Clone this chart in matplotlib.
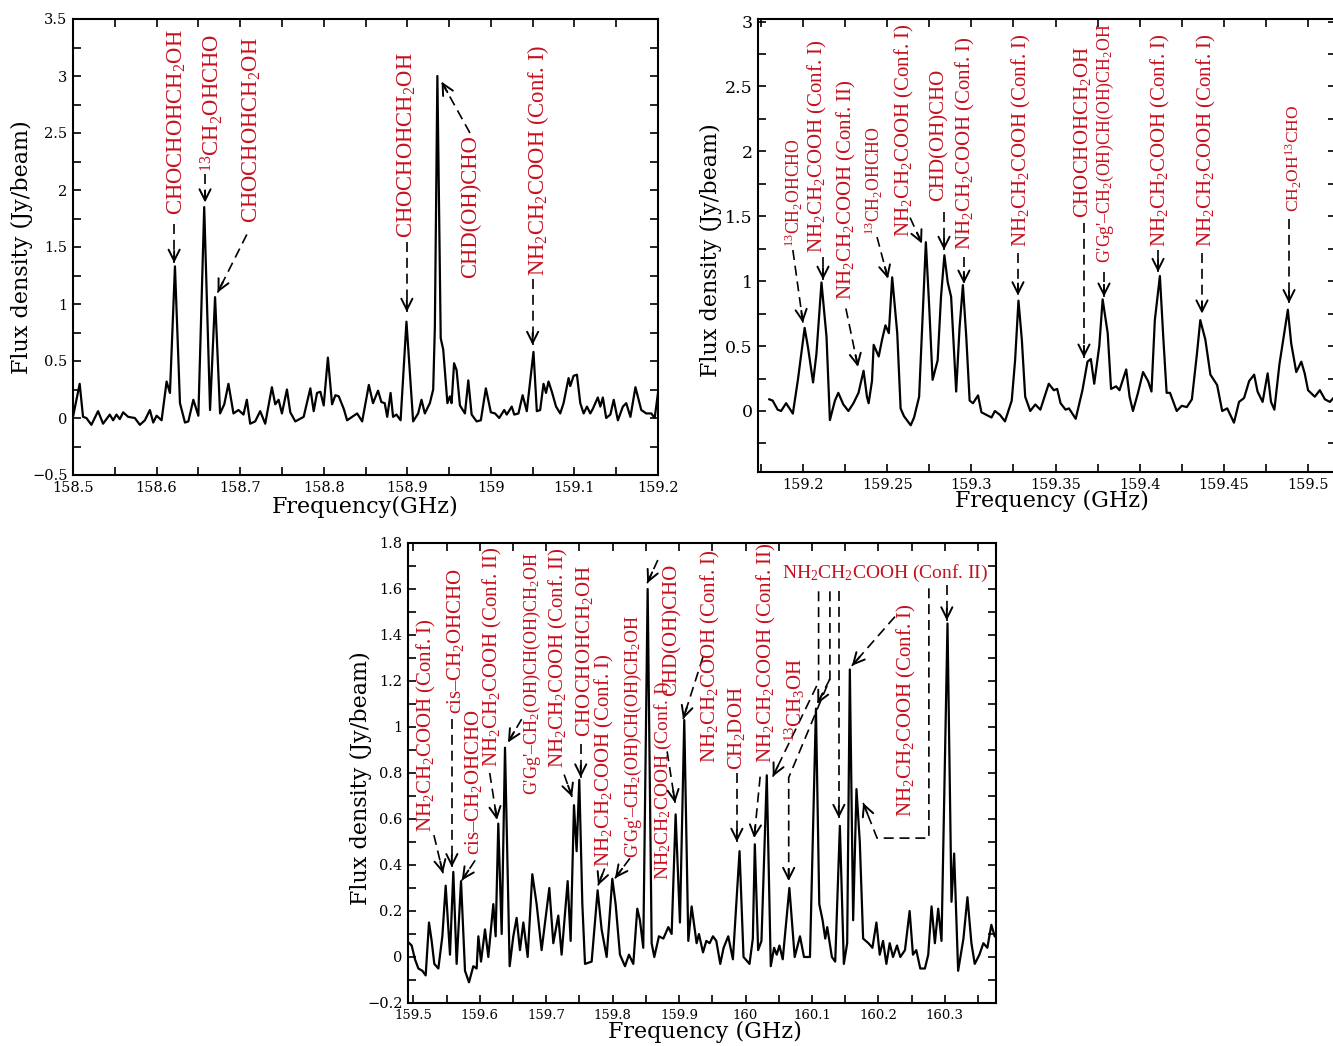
import numpy as np
import matplotlib
matplotlib.use("Agg")
import matplotlib.pyplot as plt
from matplotlib.ticker import MultipleLocator, FuncFormatter

# ---------------- spectrum A: 158.5 - 159.2 GHz ----------------
freq_a = [158.500, 158.508, 158.512, 158.516, 158.522, 158.530, 158.536, 158.544, 158.548, 158.552,
          158.556, 158.560, 158.566, 158.574, 158.580, 158.586, 158.592, 158.596, 158.600, 158.606,
          158.612, 158.616, 158.622, 158.628, 158.634, 158.638, 158.644, 158.650, 158.657, 158.664,
          158.670, 158.676, 158.681, 158.686, 158.692, 158.698, 158.704, 158.708, 158.712, 158.718,
          158.724, 158.730, 158.738, 158.742, 158.746, 158.750, 158.756, 158.760, 158.766, 158.776,
          158.784, 158.788, 158.792, 158.796, 158.800, 158.805, 158.810, 158.814, 158.818, 158.824,
          158.828, 158.834, 158.840, 158.846, 158.854, 158.859, 158.865, 158.869, 158.873, 158.876,
          158.880, 158.883, 158.887, 158.892, 158.899, 158.907, 158.913, 158.917, 158.921, 158.927,
          158.931, 158.933, 158.936, 158.940, 158.943, 158.948, 158.951, 158.953, 158.956, 158.959,
          158.963, 158.969, 158.973, 158.977, 158.983, 158.988, 158.994, 159.000, 159.005, 159.010,
          159.016, 159.019, 159.025, 159.028, 159.033, 159.038, 159.043, 159.051, 159.055, 159.059,
          159.063, 159.066, 159.069, 159.073, 159.078, 159.083, 159.087, 159.093, 159.095, 159.099,
          159.103, 159.107, 159.111, 159.115, 159.119, 159.122, 159.128, 159.131, 159.134, 159.138,
          159.143, 159.147, 159.152, 159.158, 159.162, 159.167, 159.173, 159.180, 159.186, 159.192,
          159.196, 159.200]
flux_a = [0.01, 0.30, 0.01, 0.00, -0.06, 0.06, -0.05, 0.03, -0.02, 0.03,
          -0.01, 0.05, 0.01, 0.00, -0.06, -0.02, 0.07, -0.04, 0.02, -0.02,
          0.32, 0.22, 1.33, 0.13, -0.04, -0.03, 0.16, 0.02, 1.85, 0.07,
          1.06, 0.04, 0.12, 0.30, 0.04, 0.07, 0.03, 0.16, -0.05, -0.03,
          0.06, -0.05, 0.27, 0.12, 0.16, 0.04, 0.25, 0.05, -0.03, 0.01,
          0.26, 0.06, 0.22, 0.23, 0.11, 0.53, 0.12, 0.20, 0.19, 0.08,
          -0.02, 0.01, 0.04, -0.03, 0.29, 0.13, 0.24, 0.14, 0.13, 0.01,
          0.22, 0.01, 0.03, -0.02, 0.845, -0.03, 0.04, 0.16, 0.04, 0.13,
          0.25, 0.80, 3.00, 0.70, 0.60, 0.13, 0.19, 0.13, 0.48, 0.42,
          0.11, 0.04, 0.33, 0.03, -0.03, -0.02, 0.26, 0.05, 0.04, 0.00,
          0.07, 0.03, 0.10, 0.03, 0.04, 0.20, 0.06, 0.58, 0.06, 0.07,
          0.30, 0.22, 0.32, 0.23, 0.10, 0.04, 0.13, 0.35, 0.28, 0.37,
          0.38, 0.13, 0.04, 0.10, 0.04, 0.08, 0.18, 0.10, 0.18, 0.00,
          0.03, 0.16, -0.02, 0.10, 0.13, 0.01, 0.27, 0.07, 0.04, 0.04,
          0.00, 0.22]

# ---------------- spectrum B: 159.18 - 159.52 GHz ----------------
freq_b = [159.180, 159.182, 159.185, 159.187, 159.190, 159.194, 159.197, 159.201, 159.203, 159.206,
          159.208, 159.211, 159.214, 159.216, 159.219, 159.221, 159.224, 159.227, 159.230, 159.233,
          159.236, 159.238, 159.239, 159.241, 159.242, 159.245, 159.247, 159.249, 159.251, 159.253,
          159.256, 159.258, 159.260, 159.264, 159.266, 159.269, 159.271, 159.273, 159.275, 159.277,
          159.280, 159.282, 159.284, 159.286, 159.288, 159.291, 159.293, 159.295, 159.297, 159.299,
          159.301, 159.304, 159.306, 159.309, 159.312, 159.314, 159.317, 159.320, 159.324, 159.326,
          159.328, 159.330, 159.332, 159.335, 159.338, 159.341, 159.346, 159.349, 159.351, 159.353,
          159.356, 159.358, 159.362, 159.366, 159.369, 159.371, 159.373, 159.376, 159.378, 159.381,
          159.383, 159.386, 159.388, 159.392, 159.394, 159.396, 159.399, 159.402, 159.405, 159.407,
          159.409, 159.412, 159.414, 159.416, 159.418, 159.420, 159.422, 159.425, 159.428, 159.431,
          159.434, 159.436, 159.439, 159.442, 159.446, 159.449, 159.452, 159.456, 159.459, 159.462,
          159.465, 159.468, 159.470, 159.473, 159.476, 159.478, 159.480, 159.483, 159.488, 159.490,
          159.493, 159.496, 159.498, 159.500, 159.504, 159.507, 159.510, 159.513, 159.515, 159.520]
flux_b = [0.09, 0.08, 0.01, 0.00, 0.06, -0.02, 0.24, 0.64, 0.49, 0.22,
          0.44, 0.99, 0.57, -0.07, 0.08, 0.14, 0.05, 0.00, 0.06, 0.14,
          0.31, 0.11, 0.06, 0.23, 0.51, 0.42, 0.55, 0.66, 0.60, 1.03,
          0.60, 0.02, -0.04, -0.11, -0.05, 0.11, 0.70, 1.30, 0.80, 0.24,
          0.39, 0.88, 1.20, 0.99, 0.88, 0.15, 0.64, 0.97, 0.57, 0.08,
          0.06, 0.12, -0.01, -0.03, -0.05, 0.00, -0.03, -0.08, 0.08, 0.39,
          0.85, 0.55, 0.11, 0.00, 0.05, 0.01, 0.21, 0.16, 0.17, 0.06,
          0.01, 0.02, -0.06, 0.16, 0.38, 0.40, 0.21, 0.50, 0.86, 0.60,
          0.17, 0.19, 0.16, 0.32, 0.11, 0.00, 0.14, 0.30, 0.23, 0.15,
          0.70, 1.04, 0.57, 0.14, 0.14, 0.07, 0.00, 0.04, 0.03, 0.09,
          0.44, 0.70, 0.55, 0.28, 0.20, 0.00, 0.02, -0.09, 0.07, 0.10,
          0.23, 0.28, 0.15, 0.07, 0.29, 0.07, 0.01, 0.36, 0.78, 0.52,
          0.30, 0.38, 0.29, 0.16, 0.11, 0.16, 0.09, 0.07, 0.10, 0.10]

# ---------------- spectrum C: 159.49 - 160.38 GHz ----------------
freq_c = [159.4940, 159.4975, 159.5025, 159.5076, 159.5136, 159.5186, 159.5236, 159.5276, 159.5316, 159.5377,
          159.5437, 159.5487, 159.5552, 159.5602, 159.5652, 159.5718, 159.5778, 159.5838, 159.5903, 159.5953,
          159.5979, 159.6019, 159.6079, 159.6129, 159.6204, 159.6239, 159.6279, 159.6330, 159.6380, 159.6450,
          159.6505, 159.6555, 159.6605, 159.6656, 159.6721, 159.6791, 159.6856, 159.6931, 159.7047, 159.7107,
          159.7182, 159.7232, 159.7323, 159.7368, 159.7418, 159.7458, 159.7498, 159.7544, 159.7584, 159.7684,
          159.7774, 159.7834, 159.7910, 159.7995, 159.8045, 159.8110, 159.8186, 159.8246, 159.8311, 159.8371,
          159.8411, 159.8461, 159.8527, 159.8587, 159.8627, 159.8697, 159.8763, 159.8838, 159.8888, 159.8948,
          159.9013, 159.9078, 159.9139, 159.9189, 159.9264, 159.9299, 159.9360, 159.9410, 159.9460, 159.9510,
          159.9560, 159.9620, 159.9670, 159.9740, 159.9810, 159.9910, 159.9970, 160.0060, 160.0110, 160.0140,
          160.0190, 160.0240, 160.0320, 160.0380, 160.0430, 160.0470, 160.0510, 160.0560, 160.0660, 160.0740,
          160.0820, 160.0880, 160.0970, 160.1060, 160.1110, 160.1160, 160.1200, 160.1230, 160.1300, 160.1350,
          160.1420, 160.1480, 160.1530, 160.1570, 160.1620, 160.1670, 160.1720, 160.1770, 160.1850, 160.1910,
          160.1970, 160.2020, 160.2070, 160.2120, 160.2170, 160.2220, 160.2280, 160.2330, 160.2400, 160.2470,
          160.2520, 160.2570, 160.2630, 160.2700, 160.2750, 160.2800, 160.2850, 160.2900, 160.2950, 160.3040,
          160.3100, 160.3140, 160.3200, 160.3280, 160.3340, 160.3400, 160.3450, 160.3520, 160.3580, 160.3640,
          160.3700, 160.3750, 160.3800]
flux_c = [0.06, 0.05, -0.01, -0.05, -0.06, -0.08, 0.15, 0.07, -0.03, -0.05,
          0.09, 0.31, 0.01, 0.37, -0.03, 0.33, -0.06, -0.11, -0.04, -0.05,
          0.09, -0.02, 0.12, 0.00, 0.23, 0.09, 0.58, 0.10, 0.91, -0.04,
          0.09, 0.17, 0.03, 0.15, 0.00, 0.36, 0.23, 0.03, 0.30, 0.06,
          0.18, 0.01, 0.33, 0.07, 0.66, 0.46, 0.77, 0.23, -0.03, -0.02,
          0.29, 0.12, 0.00, 0.34, 0.23, 0.01, -0.04, 0.01, -0.03, 0.21,
          0.16, 0.04, 1.60, 0.06, 0.00, 0.09, 0.08, 0.13, 0.10, 0.62,
          0.15, 1.03, 0.07, 0.22, 0.06, 0.10, 0.02, 0.07, 0.06, 0.09,
          0.07, -0.03, 0.04, 0.09, -0.01, 0.46, 0.00, -0.03, 0.08, 0.49,
          0.03, 0.07, 0.79, -0.04, 0.04, 0.01, 0.05, -0.01, 0.30, 0.00,
          0.09, 0.00, 0.00, 1.08, 0.23, 0.16, 0.08, 0.13, 0.00, -0.02,
          0.57, -0.03, 0.06, 1.25, 0.16, 0.73, 0.50, 0.08, 0.06, 0.04,
          0.15, 0.01, 0.07, -0.03, 0.06, 0.00, 0.05, 0.00, 0.03, 0.20,
          0.01, 0.03, -0.05, -0.05, 0.01, 0.22, 0.06, 0.21, 0.07, 1.45,
          0.24, 0.45, -0.06, 0.08, 0.26, 0.06, -0.03, 0.01, 0.06, 0.04,
          0.14, 0.09, 0.08]

# line identifications: text, x centre, y of text bottom, font size, arrow path
NH2_I = "NH$_2$CH$_2$COOH (Conf. I)"
NH2_II = "NH$_2$CH$_2$COOH (Conf. II)"
GGG = "G'Gg'\u2013CH$_2$(OH)CH(OH)CH$_2$OH"

labels_a = [
    ("CHOCHOHCH$_2$OH", 158.624, 1.78, 16.3, [(158.621, 1.70), (158.621, 1.36)]),
    ("$^{13}$CH$_2$OHCHO", 158.666, 2.16, 16.3, [(158.658, 2.14), (158.658, 1.89)]),
    ("CHOCHOHCH$_2$OH", 158.714, 1.71, 16.3, [(158.708, 1.61), (158.673, 1.10)]),
    ("CHOCHOHCH$_2$OH", 158.900, 1.58, 16.3, [(158.8995, 1.54), (158.8995, 0.93)]),
    ("CHD(OH)CHO", 158.976, 1.23, 16.3, [(158.975, 2.50), (158.941, 2.95)]),
    (NH2_I, 159.056, 1.25, 16.3, [(159.050, 1.22), (159.050, 0.64)]),
]

labels_b = [
    ("$^{13}$CH$_2$OHCHO", 159.1944, 1.26, 12.8, [(159.194, 1.24), (159.200, 0.68)]),
    (NH2_I, 159.2089, 1.215, 15, [(159.2119, 1.19), (159.2119, 1.01)]),
    (NH2_II, 159.2261, 0.854, 15, [(159.2255, 0.79), (159.2327, 0.34)]),
    ("$^{13}$CH$_2$OHCHO", 159.2419, 1.354, 12.8, [(159.2440, 1.34), (159.2505, 1.02)]),
    (NH2_I, 159.2606, 1.34, 15, [(159.2636, 1.49), (159.2707, 1.29)]),
    ("CHD(OH)CHO", 159.2808, 1.62, 15, [(159.2838, 1.53), (159.2838, 1.24)]),
    (NH2_I, 159.2968, 1.24, 15, [(159.2956, 1.19), (159.2956, 0.98)]),
    (NH2_I, 159.3295, 1.26, 15, [(159.3277, 1.22), (159.3277, 0.89)]),
    ("CHOCHOHCH$_2$OH", 159.3660, 1.49, 15, [(159.3669, 1.45), (159.3669, 0.41)]),
    (GGG, 159.3794, 1.14, 12.8, [(159.3788, 1.07), (159.3788, 0.88)]),
    (NH2_I, 159.4121, 1.26, 15, [(159.4109, 1.24), (159.4109, 1.07)]),
    (NH2_I, 159.4397, 1.26, 15, [(159.4370, 1.22), (159.4370, 0.75)]),
    ("CH$_2$OH$^{13}$CHO", 159.4914, 1.53, 12.6, [(159.4887, 1.48), (159.4887, 0.83)]),
]

labels_c = [
    (NH2_I, 159.520, 0.543, 15, [(159.531, 0.53), (159.5447, 0.364)]),
    ("cis\u2013CH$_2$OHCHO", 159.564, 1.056, 15, [(159.558, 1.034), (159.558, 0.39)]),
    ("cis\u2013CH$_2$OHCHO", 159.591, 0.442, 15, [(159.593, 0.42), (159.573, 0.333)]),
    (NH2_II, 159.619, 0.828, 15, [(159.615, 0.80), (159.626, 0.596)]),
    (GGG, 159.679, 0.705, 13, [(159.663, 1.034), (159.6425, 0.933)]),
    (NH2_II, 159.719, 0.823, 15, [(159.727, 0.793), (159.739, 0.696)]),
    ("CHOCHOHCH$_2$OH", 159.757, 0.955, 15, [(159.752, 0.924), (159.752, 0.78)]),
    (NH2_I, 159.787, 0.39, 15, [(159.788, 0.385), (159.778, 0.311)]),
    (GGG, 159.831, 0.429, 13, [(159.826, 0.429), (159.8035, 0.342)]),
    (NH2_I, 159.8765, 0.333, 14, [(159.882, 0.894), (159.894, 0.67)]),
    ("CHD(OH)CHO", 159.890, 1.134, 15, [(159.868, 1.726), (159.852, 1.625)]),
    (NH2_I, 159.948, 0.845, 15, [(159.936, 1.305), (159.906, 1.034)]),
    ("CH$_2$DOH", 159.986, 0.815, 15, [(159.987, 0.80), (159.987, 0.50)]),
    (NH2_II, 160.031, 0.845, 15, [(160.022, 0.784), (160.013, 0.517)]),
    ("$^{13}$CH$_3$OH", 160.074, 0.933, 15, None),
    (NH2_I, 160.243, 0.609, 15, [(160.225, 1.48), (160.160, 1.266)]),
]

# horizontal label with several leader lines in the lower panel
header_c = (NH2_II, 160.2097, 1.669, 14)
header_paths = [
    [(160.110, 1.59), (160.110, 1.196), (160.041, 0.784)],
    [(160.127, 1.59), (160.127, 1.209), (160.065, 0.78), (160.065, 0.33)],
    [(160.127, 1.209), (160.108, 1.10)],
    [(160.1405, 1.59), (160.1405, 0.604)],
    [(160.276, 1.603), (160.276, 0.517), (160.198, 0.517), (160.177, 0.67)],
    [(160.303, 1.616), (160.303, 1.463)],
]

RED = "#c4121f"
plt.rcParams["font.family"] = "DejaVu Serif"
plt.rcParams["mathtext.fontset"] = "custom"
plt.rcParams["mathtext.rm"] = "Liberation Serif"
plt.rcParams["mathtext.it"] = "Liberation Serif:italic"
plt.rcParams["mathtext.bf"] = "Liberation Serif:bold"


def fmt(v, pos):
    return ("%g" % round(v, 4)).replace("-", "\u2212")


def dashed_arrow(ax, pts, head=True):
    xs = [p[0] for p in pts]
    ys = [p[1] for p in pts]
    ax.plot(xs, ys, color="k", lw=1.2, ls=(0, (6, 3.5)), zorder=4, solid_capstyle="butt")
    if not head:
        return
    p0 = ax.transData.transform(pts[-2])
    p1 = ax.transData.transform(pts[-1])
    d = (p1 - p0) / np.hypot(*(p1 - p0))
    ax.annotate("", xy=pts[-1], xytext=(-d[0] * 12, -d[1] * 12), textcoords="offset pixels",
                arrowprops=dict(arrowstyle="->", lw=1.4, color="k", shrinkA=0, shrinkB=0,
                                mutation_scale=20), zorder=5)


def setup(ax, xlim, ylim, xmaj, xmin, ymaj, ymin, xfs, yfs):
    ax.set_xlim(*xlim)
    ax.set_ylim(*ylim)
    ax.xaxis.set_major_locator(MultipleLocator(xmaj))
    ax.xaxis.set_minor_locator(MultipleLocator(xmin))
    ax.yaxis.set_major_locator(MultipleLocator(ymaj))
    ax.yaxis.set_minor_locator(MultipleLocator(ymin))
    ax.xaxis.set_major_formatter(FuncFormatter(fmt))
    ax.yaxis.set_major_formatter(FuncFormatter(fmt))
    ax.tick_params(which="both", direction="in", top=True, right=True, length=6, width=1.2)
    ax.tick_params(axis="x", labelsize=xfs, pad=4)
    ax.tick_params(axis="y", labelsize=yfs, pad=4)
    for s in ax.spines.values():
        s.set_linewidth(1.5)


def add_labels(ax, labels):
    for text, x, y, fs, path in labels:
        ax.text(x, y, text, rotation=90, ha="center", va="bottom", color=RED, fontsize=fs,
                family="Liberation Serif", zorder=6)
        if path:
            dashed_arrow(ax, path)


fig = plt.figure(figsize=(13.33, 10.46), dpi=100)

# top left
ax1 = fig.add_axes([73 / 1333, 1 - 475 / 1046, 585 / 1333, 456 / 1046])
setup(ax1, (158.5, 159.2), (-0.5, 3.5), 0.1, 0.05, 0.5, 0.25, 10.5, 10.5)
ax1.plot(freq_a, flux_a, color="k", lw=1.6)
add_labels(ax1, labels_a)
ax1.set_xlabel("Frequency(GHz)", fontsize=16)
ax1.set_ylabel("Flux density (Jy/beam)", fontsize=16)
ax1.xaxis.set_label_coords(0.499, -0.045)
ax1.yaxis.set_label_coords(-0.068, 0.5)

# top right (cut at the figure edge like the original)
ax2 = fig.add_axes([758 / 1333, 1 - 472 / 1046, 578 / 1333, 453 / 1046])
setup(ax2, (159.1733, 159.5166), (-0.47, 3.02), 0.05, 0.025, 0.5, 0.25, 10.5, 12.5)
ax2.plot(freq_b, flux_b, color="k", lw=1.6)
add_labels(ax2, labels_b)
ax2.set_xlabel("Frequency (GHz)", fontsize=16)
ax2.set_ylabel("Flux density (Jy/beam)", fontsize=16)
ax2.xaxis.set_label_coords(0.509, -0.04)
ax2.yaxis.set_label_coords(-0.062, 0.49)

# bottom
ax3 = fig.add_axes([408 / 1333, 1 - 1003 / 1046, 588 / 1333, 460 / 1046])
setup(ax3, (159.492, 160.377), (-0.2, 1.8), 0.1, 0.05, 0.2, 0.1, 9.5, 10.5)
ax3.plot(freq_c, flux_c, color="k", lw=1.6)
add_labels(ax3, labels_c)
ht, hx, hy, hfs = header_c
ax3.text(hx, hy, ht, ha="center", va="center", color=RED, fontsize=hfs, family="Liberation Serif")
for path in header_paths:
    dashed_arrow(ax3, path)
ax3.set_xlabel("Frequency (GHz)", fontsize=16)
ax3.set_ylabel("Flux density (Jy/beam)", fontsize=16)
ax3.xaxis.set_label_coords(0.505, -0.039)
ax3.yaxis.set_label_coords(-0.061, 0.489)

fig.savefig("out.png", dpi=100)
